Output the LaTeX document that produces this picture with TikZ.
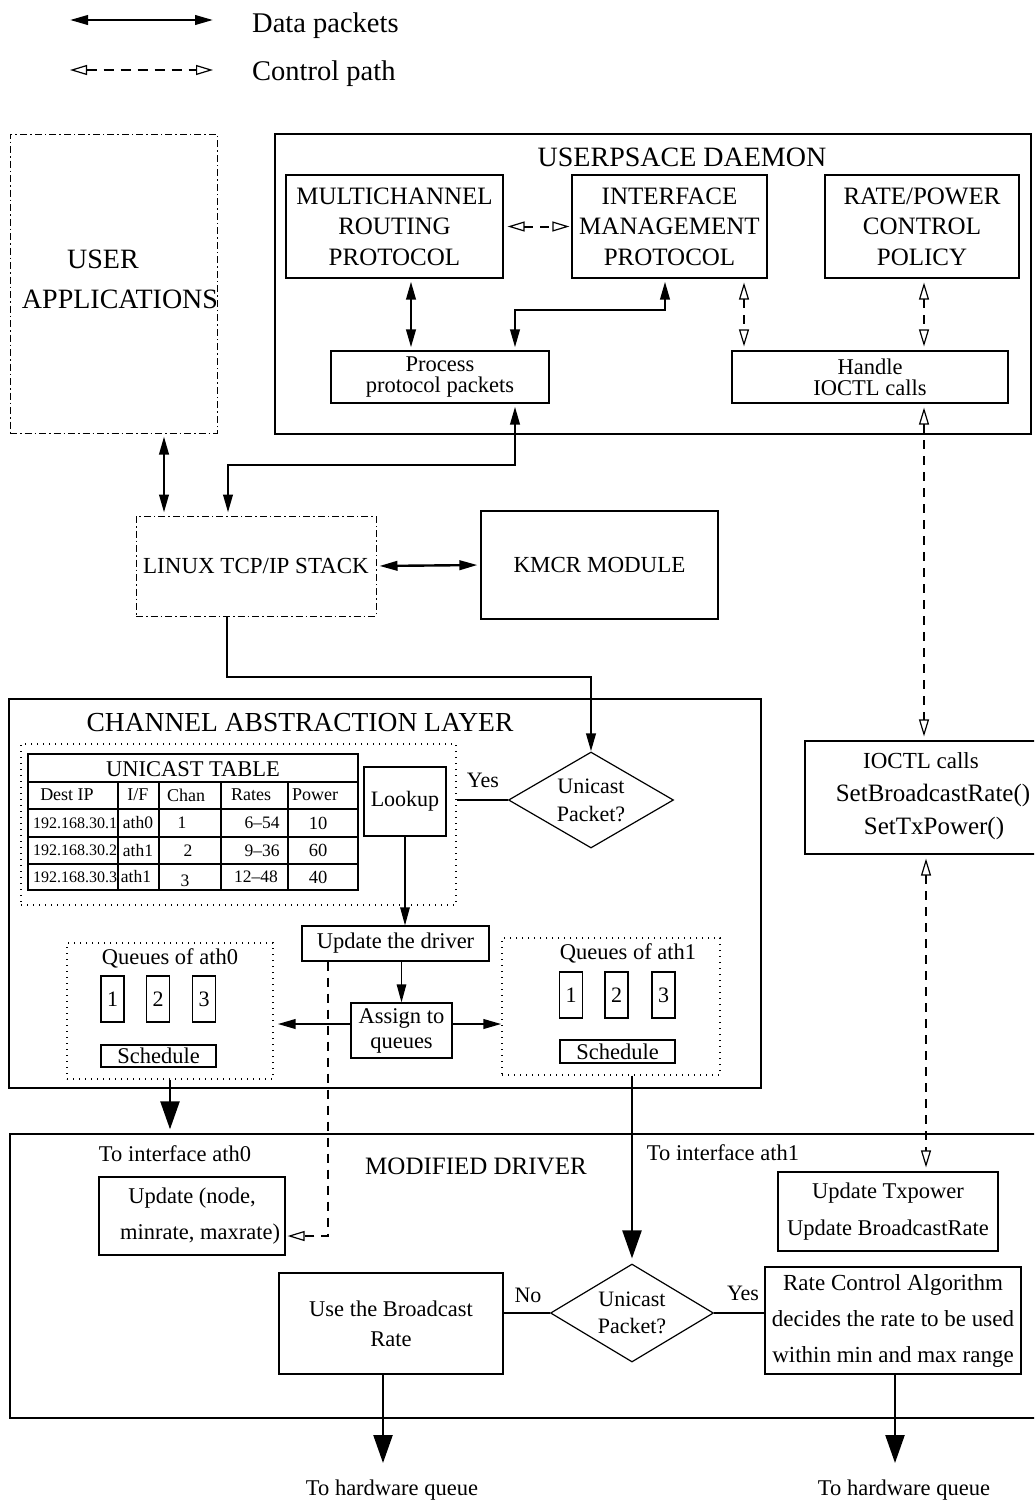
\documentclass[tikz,border=0pt]{standalone}
\usepackage{fontspec}
\setmainfont{Liberation Serif}
\usetikzlibrary{arrows.meta,shapes.geometric}

\begin{document}
\begin{tikzpicture}[x=1pt,y=-1pt,
  fz/.style 2 args={font=\fontsize{#1}{#2}\selectfont},
  txt/.style={inner sep=0pt, align=center},
  box/.style={draw, line width=1.2pt, inner sep=0pt, align=center},
  frame/.style={draw, line width=1.4pt, inner sep=0pt},
  dashdotbox/.style={draw, line width=1pt, dash pattern=on 7pt off 3pt on 1.5pt off 3pt, inner sep=0pt, align=center},
  dotbox/.style={draw, line width=1.3pt, dash pattern=on 1.4pt off 4.6pt, inner sep=0pt},
  decision/.style={draw, diamond, shape aspect=1.7, line width=1.2pt, inner sep=0pt, align=center},
  data/.style={line width=2.4pt, {Triangle[length=18pt,width=9.5pt]}-{Triangle[length=18pt,width=9.5pt]}, shorten <=3pt, shorten >=3pt},
  dataend/.style={line width=2.4pt, -{Triangle[length=18pt,width=9.5pt]}},
  plainlink/.style={line width=2.4pt},
  thinarrow/.style={line width=1.2pt, -{Triangle[length=18pt,width=9.5pt]}},
  heavy/.style={line width=2.4pt, -{Triangle[length=28pt,width=19pt]}},
  ctrl/.style={line width=2pt, dash pattern=on 9pt off 7pt, {Triangle[open,length=17pt,width=10pt,line width=1.2pt]}-{Triangle[open,length=17pt,width=10pt,line width=1.2pt]}, shorten <=4pt, shorten >=4pt},
  ctrlend/.style={line width=2pt, dash pattern=on 9pt off 7pt, -{Triangle[open,length=17pt,width=10pt,line width=1.2pt]}, shorten >=2pt}
]
\useasboundingbox (0,0) rectangle (1034,1502);
\fill[white] (0,0) rectangle (1034,1502);
\clip (0,0) rectangle (1034,1502);

% ---------- legend ----------
\coordinate (lgA) at (70,20); \coordinate (lgB) at (213,20);
\draw[data, shorten <=0pt, shorten >=0pt] (lgA) -- (lgB);
\node[txt, fz={28.5}{33}, anchor=base west] (lgData) at (252,32) {Data packets};
\coordinate (lgC) at (70,70); \coordinate (lgD) at (213,70);
\draw[ctrl, shorten <=0pt, shorten >=0pt, dash pattern=on 10pt off 7pt] (lgC) -- (lgD);
\node[txt, fz={28.5}{33}, anchor=base west] (lgCtrl) at (252,80) {Control path};

% ---------- user applications ----------
\node[dashdotbox, minimum width=207pt, minimum height=299pt] (uapp) at (113.5,283.5) {};
\node[txt, fz={28}{33}] (uappL1) at (103,259) {USER};
\node[txt, fz={28}{33}] (uappL2) at (120,299) {APPLICATIONS};

% ---------- userspace daemon ----------
\node[frame, minimum width=756pt, minimum height=300pt] (dmn) at (653,284) {};
\node[txt, fz={28}{33}] (dmnT) at (682,157) {USERPSACE DAEMON};
\node[box, fz={25}{30.5}, minimum width=217pt, minimum height=103pt] (mcr) at (394.5,226.5) {MULTICHANNEL\\ROUTING\\PROTOCOL};
\node[box, fz={25}{30.5}, minimum width=195pt, minimum height=103pt] (imp) at (669.5,226.5) {INTERFACE\\MANAGEMENT\\PROTOCOL};
\node[box, fz={25}{30.5}, minimum width=194pt, minimum height=103pt] (rpc) at (922,226.5) {RATE/POWER\\CONTROL\\POLICY};
\node[box, fz={22.5}{21}, minimum width=218pt, minimum height=52pt] (ppp) at (440,377) {Process\\protocol packets};
\node[box, fz={22.5}{21}, minimum width=276pt, minimum height=52pt] (hdl) at (870,377) {Handle\\IOCTL calls};

% ---------- kernel side ----------
\node[dashdotbox, fz={23}{27}, minimum width=240pt, minimum height=100pt] (tcp) at (256,566) {LINUX TCP/IP STACK};
\node[box, fz={23}{27}, minimum width=237pt, minimum height=108pt] (kmcr) at (599.5,565) {KMCR MODULE};

% ---------- channel abstraction layer ----------
\node[frame, minimum width=752pt, minimum height=389pt] (cal) at (385,893.5) {};
\node[txt, fz={27.5}{33}] (calT) at (300,723) {CHANNEL ABSTRACTION LAYER};
\node[dotbox, minimum width=435pt, minimum height=161pt] (tbox) at (238.5,824.5) {};

% unicast table
\node[draw, line width=1.2pt, inner sep=0pt, minimum width=330pt, minimum height=136pt] (utab) at (193,822) {};
\draw[line width=1.1pt] (28,782) -- (358,782) (28,809) -- (358,809)
  (28,837) -- (358,837) (28,864) -- (358,864);
\draw[line width=1.1pt] (118,782) -- (118,890) (159,782) -- (159,890)
  (221,782) -- (221,890) (288,782) -- (288,890);
\node[txt, fz={22.5}{27}] (tabT) at (193,769) {UNICAST TABLE};
\node[txt, fz={18}{21}] (hdA) at (67,795) {Dest IP};
\node[txt, fz={18}{21}] (hdB) at (138,795) {I/F};
\node[txt, fz={18}{21}] (hdC) at (186,795) {Chan};
\node[txt, fz={18}{21}] (hdD) at (251,795) {Rates};
\node[txt, fz={18}{21}] (hdE) at (315,795) {Power};
\node[txt, fz={16}{20}] (rAa) at (75,823) {192.168.30.1};
\node[txt, fz={17.5}{20}] (rAb) at (138,823) {ath0};
\node[txt, fz={17.5}{20}] (rAc) at (182,823) {1};
\node[txt, fz={17.5}{20}] (rAd) at (262,823) {6–54};
\node[txt, fz={18.5}{20}] (rAe) at (318,823) {10};
\node[txt, fz={16}{20}] (rBa) at (75,850) {192.168.30.2};
\node[txt, fz={17.5}{20}] (rBb) at (138,851) {ath1};
\node[txt, fz={17.5}{20}] (rBc) at (188,851) {2};
\node[txt, fz={17.5}{20}] (rBd) at (262,851) {9–36};
\node[txt, fz={18.5}{20}] (rBe) at (318,850) {60};
\node[txt, fz={16}{20}] (rCa) at (75,877) {192.168.30.3};
\node[txt, fz={17.5}{20}] (rCb) at (136,877) {ath1};
\node[txt, fz={17.5}{20}] (rCc) at (185,881) {3};
\node[txt, fz={17.5}{20}] (rCd) at (256,877) {12–48};
\node[txt, fz={18.5}{20}] (rCe) at (318,877) {40};

\node[box, fz={22}{26}, minimum width=82pt, minimum height=69pt] (look) at (405,801.5) {Lookup};
\node[decision, fz={22}{28}, minimum width=165pt, minimum height=96pt] (d1) at (591,800) {Unicast\\Packet?};
\node[txt, fz={22}{26}] (yesA) at (483,780) {Yes};

\node[box, fz={22.5}{27}, minimum width=187pt, minimum height=35pt] (upd) at (395.5,943.5) {Update the driver};
\node[box, fz={22.5}{25}, minimum width=101pt, minimum height=55pt] (asg) at (401.5,1030.5) {Assign to\\queues};

% queues of ath0
\node[dotbox, minimum width=206pt, minimum height=136pt] (q0) at (170,1011) {};
\node[txt, fz={22.5}{27}] (q0T) at (170,958) {Queues of ath0};
\node[box, fz={22}{26}, minimum width=23pt, minimum height=46pt] (q0a) at (112.5,999) {1};
\node[box, fz={22}{26}, minimum width=23pt, minimum height=46pt] (q0b) at (158,999) {2};
\node[box, fz={22}{26}, minimum width=23pt, minimum height=46pt] (q0c) at (204,999) {3};
\node[box, fz={22.5}{26}, minimum width=115pt, minimum height=22pt] (q0s) at (158.5,1056) {Schedule};

% queues of ath1
\node[dotbox, minimum width=218pt, minimum height=137pt] (q1) at (611,1006.5) {};
\node[txt, fz={22.5}{27}] (q1T) at (628,953) {Queues of ath1};
\node[box, fz={22}{26}, minimum width=23pt, minimum height=46pt] (q1a) at (571,995) {1};
\node[box, fz={22}{26}, minimum width=23pt, minimum height=46pt] (q1b) at (616.5,995) {2};
\node[box, fz={22}{26}, minimum width=23pt, minimum height=46pt] (q1c) at (663.5,995) {3};
\node[box, fz={22.5}{26}, minimum width=115pt, minimum height=23pt] (q1s) at (617.5,1051.5) {Schedule};

% ioctl calls
\node[box, minimum width=235pt, minimum height=113pt] (ioc) at (922.5,797.5) {};
\node[txt, fz={23}{27}] (iocA) at (921,761) {IOCTL calls};
\node[txt, fz={25}{30}] (iocB) at (933,795) {SetBroadcastRate()};
\node[txt, fz={25}{30}] (iocC) at (934,828) {SetTxPower()};

% ---------- modified driver ----------
\node[frame, minimum width=1030pt, minimum height=284pt] (drv) at (525,1276) {};
\node[txt, fz={25}{30}] (drvT) at (476,1166) {MODIFIED DRIVER};
\node[txt, fz={22.5}{27}] (toA) at (175,1154) {To interface ath0};
\node[txt, fz={22.5}{27}] (toB) at (723,1153) {To interface ath1};
\node[box, fz={22.5}{36}, minimum width=186pt, minimum height=78pt] (updn) at (192,1216) {Update (node,\\\hspace*{16pt}minrate, maxrate)};
\node[box, fz={22.5}{37}, minimum width=220pt, minimum height=79pt] (utx) at (888,1211.5) {Update Txpower\\Update BroadcastRate};
\node[decision, fz={22}{27}, minimum width=163pt, minimum height=98pt] (d2) at (632,1313) {Unicast\\Packet?};
\node[box, fz={22.5}{30}, minimum width=224pt, minimum height=101pt] (ubr) at (391,1323.5) {Use the Broadcast\\Rate};
\node[box, fz={23}{36}, minimum width=256pt, minimum height=107pt] (rca) at (893,1320.5) {Rate Control Algorithm\\decides the rate to be used\\within min and max range};
\node[txt, fz={22}{26}] (noB) at (528,1295) {No};
\node[txt, fz={22}{26}] (yesB) at (743,1293) {Yes};
\node[txt, fz={22.5}{27}] (hwA) at (392,1490) {To hardware queue};
\node[txt, fz={22.5}{27}] (hwB) at (904,1490) {To hardware queue};

% ---------- connectors: daemon ----------
\coordinate (mv) at (411,300);
\draw[data] (mcr.south -| mv) -- (ppp.north -| mv);
\draw[ctrl, shorten <=4pt, shorten >=2pt] (mcr.east) -- (imp.west);
\coordinate (k1) at (665,310); \coordinate (k2) at (515,310);
\draw[data] (imp.south -| k1) -- (k1) -- (k2) -- (ppp.north -| k2);
\coordinate (iv) at (744,300);
\draw[ctrl] (imp.south -| iv) -- (hdl.north -| iv);
\coordinate (rv) at (924,300);
\draw[ctrl] (rpc.south -| rv) -- (hdl.north -| rv);
\draw[ctrl] (hdl.south -| rv) -- (ioc.north -| rv);
\coordinate (rw) at (926,1000);
\draw[ctrl] (ioc.south -| rw) -- (utx.north -| rw);

% ---------- connectors: kernel ----------
\coordinate (k3) at (515,465); \coordinate (k4) at (228,465);
\draw[data] (ppp.south -| k3) -- (k3) -- (k4) -- (tcp.north -| k4);
\coordinate (k5) at (164,470);
\draw[data] (uapp.south -| k5) -- (tcp.north -| k5);
\draw[data] (tcp.east) -- (kmcr.west);
\coordinate (k6) at (227,677); \coordinate (k7) at (591,677);
\draw[dataend] (tcp.south -| k6) -- (k6) -- (k7) -- (d1.north);

% ---------- connectors: channel abstraction layer ----------
\draw[plainlink] (tbox.east |- d1.west) -- (d1.west);
\draw[thinarrow] (look.south) -- (look.south |- upd.north);
\draw[thinarrow] (asg.north |- upd.south) -- (asg.north);
\coordinate (asgL) at ([yshift=6.5pt]asg.west);
\coordinate (asgR) at ([yshift=6.5pt]asg.east);
\draw[dataend, shorten >=4pt] (asgL) -- (asgL -| q0.east);
\draw[dataend] (asgR) -- (asgR -| q1.west);
\draw[heavy, shorten >=4pt] (q0.south) -- (q0.south |- drv.north);
\draw[heavy, shorten >=5pt] (d2.north |- q1.south) -- (d2.north);
\coordinate (c2) at (328,1236);
\draw[ctrlend] (upd.south -| c2) -- (c2) -- (c2 -| updn.east);

% ---------- connectors: driver ----------
\draw[plainlink] (d2.west -| ubr.east) -- (d2.west);
\draw[plainlink] (d2.east) -- (d2.east -| rca.west);
\coordinate (a1) at (383,1463); \coordinate (a2) at (895,1463);
\draw[heavy] (ubr.south -| a1) -- (a1);
\draw[heavy] (rca.south -| a2) -- (a2);
\end{tikzpicture}
\end{document}
